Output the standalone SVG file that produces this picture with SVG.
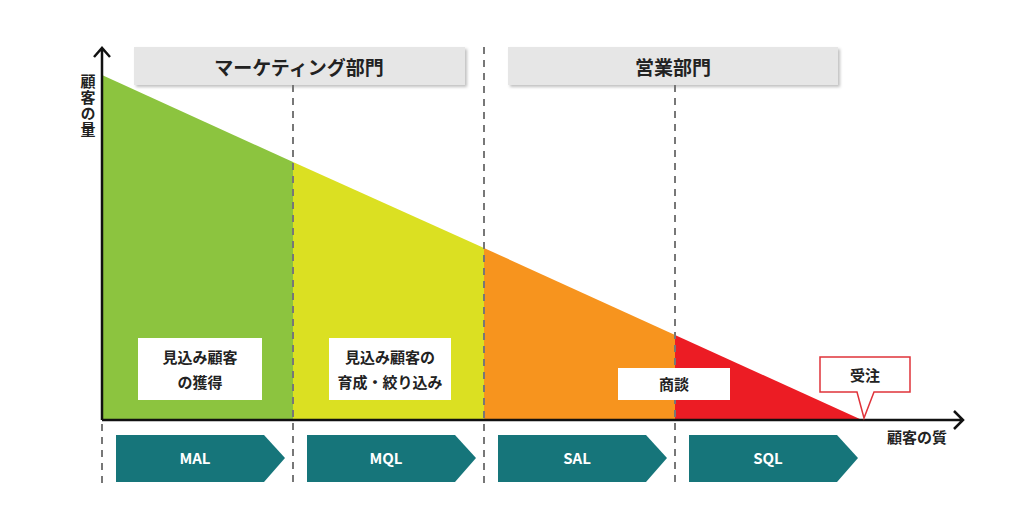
<svg xmlns="http://www.w3.org/2000/svg" width="1024" height="514" viewBox="0 0 1024 514">
<style>
text{font-family:"Noto Sans CJK JP","Noto Sans",sans-serif;font-weight:700;fill:#222;text-anchor:middle}
.hd{fill:#e6e6e6;filter:url(#sh)}
.dash{stroke:#777;stroke-width:2;stroke-dasharray:7,6;fill:none}
.chev{fill:#16757a}
.chev-t{fill:#fff;font-size:15px}
.lbl{fill:#fff}
.ax{stroke:#111;stroke-width:2.5;fill:none}
</style>
<defs>
<filter id="sh" x="-5%" y="-20%" width="110%" height="160%"><feDropShadow dx="2" dy="2" stdDeviation="1.5" flood-color="#000" flood-opacity="0.25"/></filter>
</defs>
<rect width="1024" height="514" fill="#fff"/>
<g id="areas">
<polygon points="102,75 293,162 293,420 102,420" fill="#8cc43f"/>
<polygon points="293,162 484,248 484,420 293,420" fill="#dbe022"/>
<polygon points="484,248 675,335 675,420 484,420" fill="#f7941e"/>
<polygon points="675,335 862,420 675,420" fill="#ec1c24"/>
</g>
<g id="header-marketing"><rect class="hd" x="134" y="47" width="331" height="38"/><text x="299" y="75" font-size="19">マーケティング部門</text></g>
<g id="header-sales"><rect class="hd" x="508" y="47" width="330" height="38"/><text x="673" y="75" font-size="19">営業部門</text></g>
<g id="connectors">
<line class="dash" x1="293" y1="85" x2="293" y2="484"/>
<line class="dash" x1="484" y1="47" x2="484" y2="484"/>
<line class="dash" x1="675" y1="85" x2="675" y2="484"/>
<line class="dash" x1="102" y1="424" x2="102" y2="484"/>
<path class="ax" d="M102,420 V48 M94,57 L102,48 L110,57"/>
<path class="ax" d="M102,420 H963 M954,411 L963,420 L954,429"/>
</g>
<text x="88" y="106" font-size="15" writing-mode="vertical-rl" letter-spacing="1">顧客の量</text>
<text x="917" y="443" font-size="15">顧客の質</text>
<g id="lbl-mal"><rect class="lbl" x="138" y="338" width="124" height="62"/><text x="200" y="363" font-size="15">見込み顧客</text><text x="200" y="388" font-size="15">の獲得</text></g>
<g id="lbl-mql"><rect class="lbl" x="329" y="338" width="122" height="62"/><text x="390" y="363" font-size="15">見込み顧客の</text><text x="390" y="388" font-size="15">育成・絞り込み</text></g>
<g id="lbl-sal"><rect class="lbl" x="618" y="368" width="112" height="32"/><text x="674" y="390" font-size="15">商談</text></g>
<g id="lbl-order"><path d="M820,357 H910 V392 H874 L864,418 L857,392 H820 Z" fill="#fff" stroke="#e0333a" stroke-width="1.5"/><text x="865" y="381" font-size="15">受注</text></g>
<g id="mal"><polygon class="chev" points="116,435 264,435 285,458 264,482 116,482"/><text class="chev-t" x="195" y="464">MAL</text></g>
<g id="mql"><polygon class="chev" points="307,435 455,435 476,458 455,482 307,482"/><text class="chev-t" x="386" y="464">MQL</text></g>
<g id="sal"><polygon class="chev" points="498,435 646,435 667,458 646,482 498,482"/><text class="chev-t" x="577" y="464">SAL</text></g>
<g id="sql"><polygon class="chev" points="689,435 837,435 858,458 837,482 689,482"/><text class="chev-t" x="768" y="464">SQL</text></g>
</svg>
